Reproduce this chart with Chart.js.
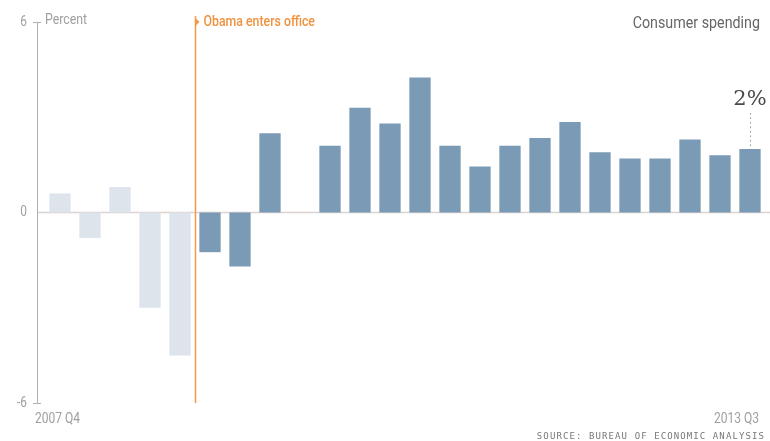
<!DOCTYPE html>
<html>
<head>
<meta charset="utf-8">
<script src="https://cdn.jsdelivr.net/npm/chart.js@4/dist/chart.umd.min.js"></script>
<style>
  html, body { margin: 0; padding: 0; background: #fff; }
  #spendingChart { display: block; }
</style>
</head>
<body>
<canvas id="spendingChart" width="770" height="441"></canvas>
<script>
const quarters = [
  "2007 Q4", "2008 Q1", "2008 Q2", "2008 Q3", "2008 Q4",
  "2009 Q1", "2009 Q2", "2009 Q3", "2009 Q4",
  "2010 Q1", "2010 Q2", "2010 Q3", "2010 Q4",
  "2011 Q1", "2011 Q2", "2011 Q3", "2011 Q4",
  "2012 Q1", "2012 Q2", "2012 Q3", "2012 Q4",
  "2013 Q1", "2013 Q2", "2013 Q3"
];
// consumer spending, percent change
const spending = [
  0.6, -0.8, 0.8, -3.0, -4.5,
  -1.25, -1.7, 2.5, 0,
  2.1, 3.3, 2.8, 4.25,
  2.1, 1.45, 2.1, 2.35,
  2.85, 1.9, 1.7, 1.7,
  2.3, 1.8, 2.0
];
const yTicks = [6, 0, -6];
const obamaStart = "2009 Q1";
const lastLabel = "2%";

const startIdx = quarters.indexOf(obamaStart);
const barColors = quarters.map((q, i) => (i < startIdx ? "#dde4ec" : "#7a9ab5"));

const NARROW = 'Roboto, "Liberation Sans", sans-serif';

// roboto squeezed sideways, the original uses a condensed face
function narrowText(ctx, text, x, y, align, squeeze) {
  const w = ctx.measureText(text).width * squeeze;
  let left = x;
  if (align === "right") left = x - w;
  else if (align === "center") left = x - w / 2;
  ctx.save();
  ctx.textAlign = "left";
  ctx.translate(left, y);
  ctx.scale(squeeze, 1);
  ctx.fillText(text, 0, 0);
  ctx.restore();
}

const decorPlugin = {
  id: "decor",
  beforeDatasetsDraw(chart) {
    const { ctx, chartArea, scales } = chart;
    const y = scales.y;
    const axisX = chartArea.left - 8;
    ctx.save();
    // zero line
    ctx.strokeStyle = "#dcd4d0";
    ctx.lineWidth = 1.5;
    ctx.beginPath();
    ctx.moveTo(axisX, y.getPixelForValue(0));
    ctx.lineTo(chart.width, y.getPixelForValue(0));
    ctx.stroke();
    // y axis
    ctx.strokeStyle = "#b0b0b0";
    ctx.lineWidth = 1;
    ctx.beginPath();
    ctx.moveTo(axisX + 0.5, y.getPixelForValue(6));
    ctx.lineTo(axisX + 0.5, y.getPixelForValue(-6));
    ctx.stroke();
    ctx.fillStyle = "#a0a0a0";
    ctx.font = "14px " + NARROW;
    ctx.textBaseline = "middle";
    yTicks.forEach((t) => {
      const py = y.getPixelForValue(t);
      if (t !== 0) {
        ctx.beginPath();
        ctx.moveTo(axisX - 4, py + 0.5);
        ctx.lineTo(axisX + 4, py + 0.5);
        ctx.stroke();
      }
      narrowText(ctx, String(t), axisX - 10, py, "right", 0.85);
    });
    narrowText(ctx, "Percent", axisX + 8, y.getPixelForValue(6) - 2, "left", 0.88);
    ctx.restore();
  },
  afterDatasetsDraw(chart) {
    const { ctx, chartArea, scales } = chart;
    const x = scales.x;
    const y = scales.y;
    ctx.save();
    // Obama line
    const step = x.getPixelForValue(1) - x.getPixelForValue(0);
    const ox = Math.round(x.getPixelForValue(startIdx) - step / 2) + 0.5;
    ctx.strokeStyle = "#f29a4c";
    ctx.fillStyle = "#f29a4c";
    ctx.lineWidth = 1.5;
    ctx.beginPath();
    ctx.moveTo(ox, chartArea.top - 6);
    ctx.lineTo(ox, y.getPixelForValue(-6));
    ctx.stroke();
    ctx.beginPath();
    ctx.moveTo(ox, chartArea.top - 4);
    ctx.lineTo(ox + 4, chartArea.top);
    ctx.lineTo(ox, chartArea.top + 4);
    ctx.closePath();
    ctx.fill();
    ctx.font = "500 14px " + NARROW;
    ctx.textBaseline = "middle";
    ctx.fillStyle = "#f0923e";
    narrowText(ctx, "Obama enters office", ox + 8, chartArea.top, "left", 0.88);

    // title
    ctx.fillStyle = "#666";
    ctx.font = "17px " + NARROW;
    narrowText(ctx, "Consumer spending", 760, 24, "right", 0.84);

    // last value label
    const li = spending.length - 1;
    const lx = x.getPixelForValue(li);
    const ly = y.getPixelForValue(spending[li]);
    ctx.strokeStyle = "#999";
    ctx.lineWidth = 1;
    ctx.setLineDash([1.5, 3]);
    ctx.beginPath();
    ctx.moveTo(Math.round(lx) + 0.5, ly - 3);
    ctx.lineTo(Math.round(lx) + 0.5, 112);
    ctx.stroke();
    ctx.setLineDash([]);
    ctx.fillStyle = "#4a4a4a";
    ctx.font = '21px "DejaVu Serif", Georgia, serif';
    ctx.textAlign = "center";
    ctx.fillText(lastLabel, lx, 100);

    // x labels
    ctx.fillStyle = "#a0a0a0";
    ctx.font = "14px " + NARROW;
    narrowText(ctx, quarters[0], 35, 419, "left", 0.86);
    narrowText(ctx, quarters[li], 759, 419, "right", 0.86);

    // source
    ctx.fillStyle = "#777";
    ctx.font = '9px "DejaVu Sans Mono", monospace';
    ctx.letterSpacing = "1.1px";
    ctx.textAlign = "right";
    ctx.fillText("SOURCE: BUREAU OF ECONOMIC ANALYSIS", 765, 437);
    ctx.restore();
  }
};

new Chart(document.getElementById("spendingChart"), {
  type: "bar",
  data: {
    labels: quarters,
    datasets: [
      {
        data: spending,
        backgroundColor: barColors,
        borderWidth: 0,
        barPercentage: 0.71,
        categoryPercentage: 1.0,
      },
    ],
  },
  options: {
    responsive: false,
    animation: false,
    layout: { padding: { left: 45, right: 5, top: 22, bottom: 38 } },
    scales: {
      x: { display: false, offset: true },
      y: { display: false, min: -6, max: 6 },
    },
    plugins: {
      legend: { display: false },
      tooltip: { enabled: false },
    },
  },
  plugins: [decorPlugin],
});
</script>
</body>
</html>
